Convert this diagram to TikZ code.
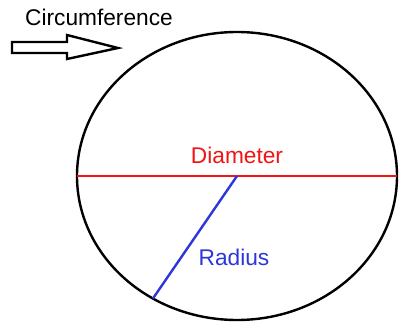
\documentclass[tikz,border=0pt]{standalone}
\usepackage{fontspec}
\setmainfont{Liberation Sans}
\usetikzlibrary{positioning, calc}

\definecolor{diamred}{RGB}{240,20,20}
\definecolor{radblue}{RGB}{45,55,215}

\begin{document}
\begin{tikzpicture}[
  x=1pt, y=1pt,
  font=\fontsize{22.7}{26}\selectfont,
  rim/.style={draw=black, line width=2.4pt},
  lbl/.style={anchor=base, inner sep=0pt},
]
\useasboundingbox (0,0) rectangle (400,325);

% --- the circle and its centre
\coordinate (c) at (237,149);
\draw[rim] (c) ellipse [x radius=160, y radius=144];
\coordinate (w) at ($(c)+(-160,0)$);
\coordinate (e) at ($(c)+(160,0)$);
\coordinate (r) at ($(c)+(238.3:160 and 144)$);

% --- diameter and radius
\draw[diamred, line width=2.4pt] (w) -- (e);
\draw[radblue, line width=2.4pt] (c) -- (r);
\node[lbl, text=diamred] (dlab) at ($(c)+(0,12)$) {Diameter};
\node[lbl, text=radblue] (rlab) at ($(c)+(-3,-89)$) {Radius};

% --- circumference label and block arrow
\node[lbl, anchor=base west] (clab) at (25,300) {Circumference};
\draw[line width=2.4pt, line join=miter]
  (12,283) -- (67,283) -- (67,290) -- (118,277) -- (67,266) -- (67,272) -- (12,272) -- cycle;

\end{tikzpicture}
\end{document}
